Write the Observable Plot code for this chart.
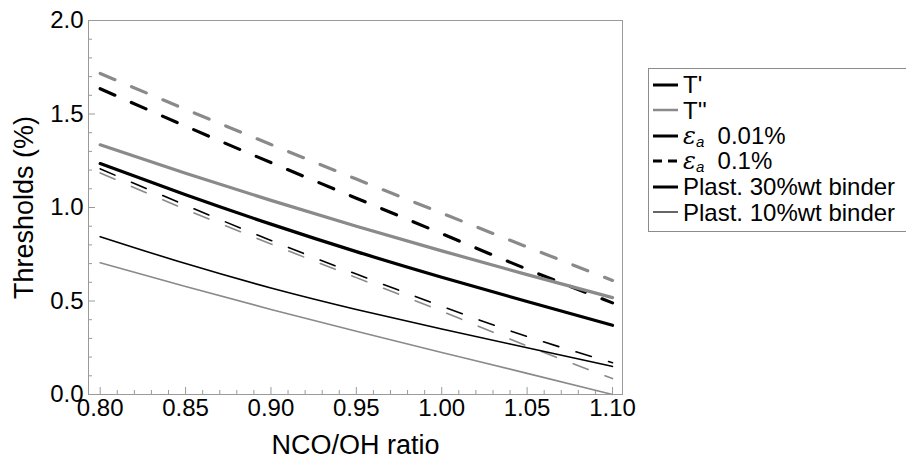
<!DOCTYPE html>
<html><head><meta charset="utf-8">
<script src="https://cdn.jsdelivr.net/npm/d3@7"></script>
<script src="https://cdn.jsdelivr.net/npm/@observablehq/plot@0.6"></script>
<style>
html,body{margin:0;padding:0;background:#fff;overflow:hidden;}
#wrap{position:relative;width:906px;height:459px;font-family:"Liberation Sans",Arial,Helvetica,sans-serif;overflow:hidden;}
#legend{position:absolute;left:648px;top:68px;width:300px;height:164px;border:1px solid #8c8c8c;box-sizing:border-box;padding:3px 0 0 4px;font-size:24px;color:#000;background:#fff;}
.item{display:flex;align-items:center;height:25.5px;line-height:25.5px;white-space:nowrap;}
.item svg{width:25px;height:10px;margin-right:5px;flex:none;}
.eps{font-style:italic;font-family:"DejaVu Serif","Liberation Serif",serif;}
.eps sub{font-size:15px;vertical-align:-3px;line-height:0;font-family:"Liberation Sans",Arial,sans-serif;}
</style></head><body><div id="wrap"><div id="chart"></div><div id="legend"></div></div>
<script>
// ---- data ----
const ratio = [0.80, 0.85, 0.90, 0.95, 1.00, 1.05, 1.10];
// T' threshold, eps_a 0.01%, plasticizer 30%wt binder
const tP_e001_p30 = [1.235, 1.068, 0.911, 0.764, 0.627, 0.497, 0.37];
// T'' threshold, eps_a 0.01%, plasticizer 30%wt binder
const tPP_e001_p30 = [1.335, 1.183, 1.038, 0.90, 0.768, 0.641, 0.518];
// T' threshold, eps_a 0.1%, plasticizer 30%wt binder
const tP_e01_p30 = [1.635, 1.435, 1.24, 1.05, 0.86, 0.67, 0.49];
// T'' threshold, eps_a 0.1%, plasticizer 30%wt binder
const tPP_e01_p30 = [1.717, 1.525, 1.337, 1.152, 0.97, 0.789, 0.61];
// T' threshold, eps_a 0.01%, plasticizer 10%wt binder
const tP_e001_p10 = [0.844, 0.70, 0.57, 0.455, 0.35, 0.25, 0.15];
// T'' threshold, eps_a 0.01%, plasticizer 10%wt binder
const tPP_e001_p10 = [0.705, 0.577, 0.455, 0.338, 0.225, 0.113, 0.0];
// T' threshold, eps_a 0.1%, plasticizer 10%wt binder
const tP_e01_p10 = [1.207, 1.012, 0.824, 0.644, 0.472, 0.31, 0.17];
// T'' threshold, eps_a 0.1%, plasticizer 10%wt binder
const tPP_e01_p10 = [1.185, 0.99, 0.805, 0.625, 0.445, 0.26, 0.085];

const xMajor = [0.80, 0.85, 0.90, 0.95, 1.00, 1.05, 1.10];
const xMinor = [0.81,0.82,0.83,0.84,0.86,0.87,0.88,0.89,0.91,0.92,0.93,0.94,0.96,0.97,0.98,0.99,1.01,1.02,1.03,1.04,1.06,1.07,1.08,1.09];
const yMajor = [0.0, 0.5, 1.0, 1.5, 2.0];
const yMinor = [0.1,0.2,0.3,0.4,0.6,0.7,0.8,0.9,1.1,1.2,1.3,1.4,1.6,1.7,1.8,1.9];

const xLabel = "NCO/OH ratio";
const yLabel = "Thresholds (%)";

// ---- series definitions ----
const series = [
  {values: tPP_e01_p30, threshold: "T''", eps: "0.1", plast: "30"},
  {values: tP_e01_p30, threshold: "T'", eps: "0.1", plast: "30"},
  {values: tPP_e001_p30, threshold: "T''", eps: "0.01", plast: "30"},
  {values: tP_e001_p30, threshold: "T'", eps: "0.01", plast: "30"},
  {values: tPP_e01_p10, threshold: "T''", eps: "0.1", plast: "10"},
  {values: tP_e01_p10, threshold: "T'", eps: "0.1", plast: "10"},
  {values: tPP_e001_p10, threshold: "T''", eps: "0.01", plast: "10"},
  {values: tP_e001_p10, threshold: "T'", eps: "0.01", plast: "10"}
];

const GRAY = "#8a8a8a";
const AXIS = "#9a9a9a";
const W = 906, H = 459;
const mL = 88, mR = 284, mT = 20, mB = 65;
const plotW = W - mL - mR, plotH = H - mT - mB;

const lineMarks = series.map(s => {
  const rows = ratio.map((x, i) => ({x, y: s.values[i]}));
  return Plot.line(rows, {
    x: "x", y: "y",
    curve: "natural",
    stroke: s.threshold === "T'" ? "#000" : GRAY,
    strokeWidth: s.plast === "30" ? 3.2 : 1.6,
    strokeDasharray: s.eps === "0.1" ? "16,18" : null
  });
});

const chart = Plot.plot({
  width: W, height: H,
  marginLeft: mL, marginRight: mR, marginTop: mT, marginBottom: mB,
  style: {fontFamily: '"Liberation Sans", Arial, Helvetica, sans-serif', fontSize: "24px", background: "#fff", color: "#000"},
  x: {domain: [0.79315, 1.10586]},
  y: {domain: [0, 2]},
  marks: [
    Plot.ruleY(yMinor, {y: d => d, stroke: AXIS, insetRight: plotW - 4}),
    Plot.ruleY(yMajor, {y: d => d, stroke: AXIS, insetRight: plotW - 7}),
    Plot.ruleX(xMinor, {x: d => d, stroke: AXIS, insetTop: plotH - 4}),
    Plot.ruleX(xMajor, {x: d => d, stroke: AXIS, insetTop: plotH - 7}),
    Plot.axisY({ticks: yMajor, tickSize: 0, tickPadding: 5, tickFormat: d3.format(".1f"), label: null, fontSize: 24}),
    Plot.axisX({ticks: xMajor, tickSize: 0, tickPadding: 4, tickFormat: d3.format(".2f"), label: null, fontSize: 24}),
    ...lineMarks,
    Plot.frame({stroke: AXIS}),
    Plot.text([xLabel], {frameAnchor: "bottom", textAnchor: "middle", dy: 59, lineAnchor: "bottom", fontSize: 27}),
    Plot.text([yLabel], {frameAnchor: "left", textAnchor: "middle", dx: -64, rotate: -90, lineAnchor: "middle", fontSize: 27})
  ]
});
document.getElementById("chart").appendChild(chart);

// ---- legend ----
const legendItems = [
  {html: "T'", stroke: "#000", width: 3, dash: null},
  {html: "T''", stroke: GRAY, width: 2.5, dash: null},
  {html: '<span class="eps">ε<sub>a</sub></span>&nbsp; 0.01%', stroke: "#000", width: 3, dash: null},
  {html: '<span class="eps">ε<sub>a</sub></span>&nbsp; 0.1%', stroke: "#000", width: 3, dash: "9,6"},
  {html: "Plast. 30%wt binder", stroke: "#000", width: 3, dash: null},
  {html: "Plast. 10%wt binder", stroke: "#000", width: 1.2, dash: null}
];
const leg = document.getElementById("legend");
for (const it of legendItems) {
  const d = document.createElement("div");
  d.className = "item";
  d.innerHTML = `<svg viewBox="0 0 25 10"><line x1="0" y1="5" x2="25" y2="5" stroke="${it.stroke}" stroke-width="${it.width}" ${it.dash ? `stroke-dasharray="${it.dash}"` : ""}/></svg><span>${it.html}</span>`;
  leg.appendChild(d);
}
</script>
</body></html>
